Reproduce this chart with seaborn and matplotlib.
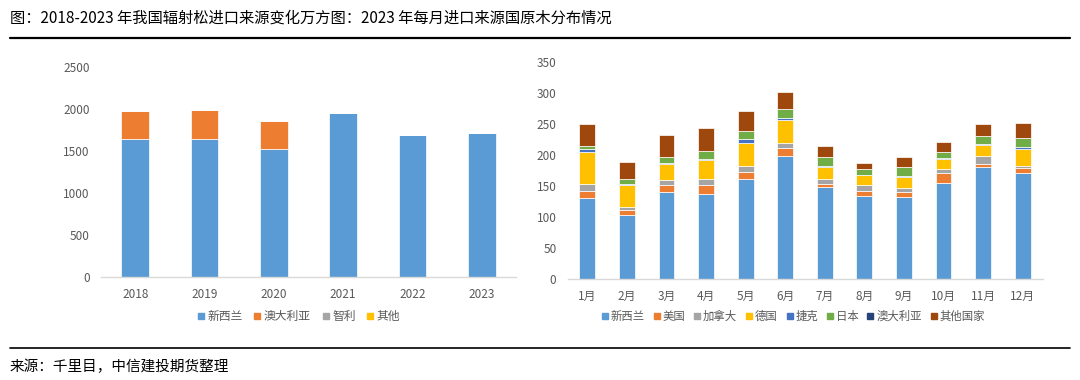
import numpy as np
import pandas as pd
import matplotlib
matplotlib.use("Agg")
import matplotlib.pyplot as plt
import seaborn as sns
from matplotlib.lines import Line2D

# left chart: yearly radiata pine imports (万方)
years = ["2018", "2019", "2020", "2021", "2022", "2023"]
year_series = ["新西兰", "澳大利亚", "智利", "其他"]
nz_year = [1640, 1648, 1525, 1954, 1695, 1719]
au_year = [340, 342, 337, 0, 0, 0]
cl_year = [0, 0, 0, 0, 0, 0]
other_year = [0, 0, 0, 0, 0, 0]

# right chart: 2023 monthly log imports by source
months = ["1月", "2月", "3月", "4月", "5月", "6月", "7月", "8月", "9月", "10月", "11月", "12月"]
month_series = ["新西兰", "美国", "加拿大", "德国", "捷克", "日本", "澳大利亚", "其他国家"]
m_nz = [130, 103, 141, 137, 161, 199, 149, 134, 132, 155, 180, 171]
m_us = [12, 8, 11, 15, 12, 13, 5, 8, 9, 16, 6, 8]
m_ca = [11, 5, 8, 9, 10, 8, 7, 10, 6, 7, 12, 3]
m_de = [52, 35, 26, 31, 36, 36, 20, 15, 17, 16, 18, 28]
m_cz = [4, 3, 1, 1, 6, 3, 1, 1, 2, 1, 1, 3]
m_jp = [6, 8, 10, 13, 14, 15, 14, 9, 15, 10, 14, 14]
m_au = [0, 0, 0, 0, 0, 0, 0, 0, 0, 0, 0, 0]
m_other = [35, 27, 35, 37, 32, 28, 18, 10, 16, 16, 19, 24]

year_colors = ["#5B9BD5", "#ED7D31", "#A5A5A5", "#FFC000"]
month_colors = ["#5B9BD5", "#ED7D31", "#A5A5A5", "#FFC000",
                "#4472C4", "#70AD47", "#264478", "#9E480E"]

sns.set_theme(style="white")
plt.rcParams['font.family'] = ['Noto Sans CJK SC', 'DejaVu Sans']
tick_gray = "#595959"

fig = plt.figure(figsize=(10.8, 3.8), dpi=100)


def stacked(ax, cats, layers, names, colors):
    bottom = np.zeros(len(cats))
    for vals, name, col in zip(layers, names, colors):
        df = pd.DataFrame({"cat": cats, "val": vals})
        sns.barplot(data=df, x="cat", y="val", color=col, width=0.4,
                    bottom=bottom.copy(), ax=ax, linewidth=0.5,
                    edgecolor="white", saturation=1)
        bottom += np.array(vals, dtype=float)
    ax.set_xlabel("")
    ax.set_ylabel("")
    for s in ["top", "left", "right"]:
        ax.spines[s].set_visible(False)
    ax.spines["bottom"].set_color("#D9D9D9")
    ax.spines["bottom"].set_linewidth(1)
    ax.tick_params(axis="both", length=0, labelsize=8.5, colors=tick_gray, pad=8)
    ax.set_xlim(-0.5, len(cats) - 0.5)
    handles = [Line2D([], [], marker="s", linestyle="", markersize=5,
                      markerfacecolor=c, markeredgecolor=c) for c in colors]
    return handles


ax1 = fig.add_axes([0.0932, 0.2718, 0.385, 0.551])
h1 = stacked(ax1, years, [nz_year, au_year, cl_year, other_year], year_series, year_colors)
ax1.set_ylim(0, 2500)
ax1.set_yticks(range(0, 2501, 500))
ax1.legend(h1, year_series, loc="center", bbox_to_anchor=(0.47, -0.19), ncol=4,
           frameon=False, fontsize=8.5, labelcolor=tick_gray, handletextpad=-0.2,
           columnspacing=0.5, handlelength=1.5)

ax2 = fig.add_axes([0.5255, 0.265, 0.4398, 0.5726])
h2 = stacked(ax2, months, [m_nz, m_us, m_ca, m_de, m_cz, m_jp, m_au, m_other],
             month_series, month_colors)
ax2.set_ylim(0, 350)
ax2.set_yticks(range(0, 351, 50))
ax2.legend(h2, month_series, loc="center", bbox_to_anchor=(0.47, -0.17), ncol=8,
           frameon=False, fontsize=8.2, labelcolor=tick_gray, handletextpad=-0.25,
           columnspacing=0.3, handlelength=1.5)

fig.text(10 / 1080, 1 - 18 / 380, "图：2018-2023 年我国辐射松进口来源变化万方图：2023 年每月进口来源国原木分布情况",
         fontsize=11, va="center", ha="left", color="black")
fig.add_artist(Line2D([10 / 1080, 1070 / 1080], [1 - 38 / 380, 1 - 38 / 380],
                      color="black", linewidth=1.6))
fig.add_artist(Line2D([10 / 1080, 1070 / 1080], [1 - 348 / 380, 1 - 348 / 380],
                      color="black", linewidth=1.2))
fig.text(10 / 1080, 1 - 367 / 380, "来源：千里目，中信建投期货整理",
         fontsize=10.5, va="center", ha="left", color="black")

fig.savefig("out.png", dpi=100)
